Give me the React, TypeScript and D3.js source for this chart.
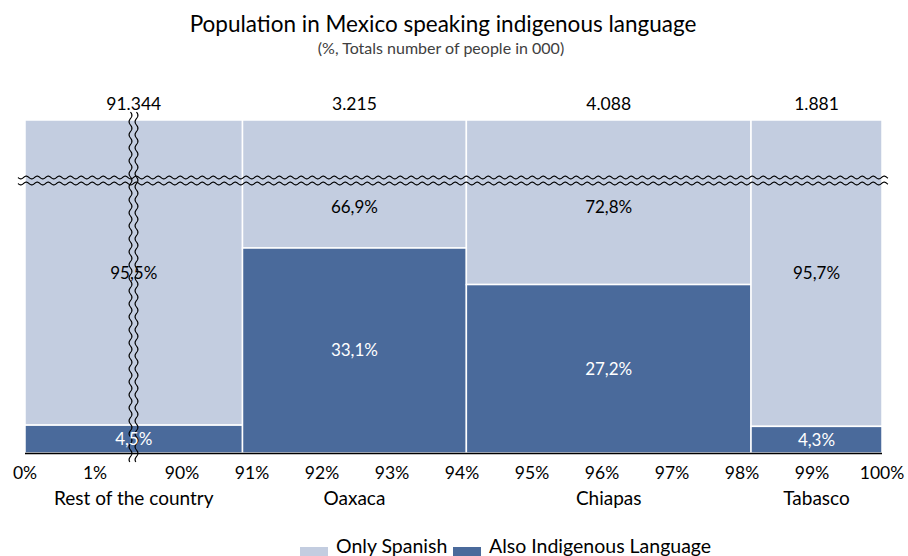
import React from "react";
import * as d3 from "d3";

// ---- data ----
const categories = ["Rest of the country", "Oaxaca", "Chiapas", "Tabasco"];
const totals = [91344, 3215, 4088, 1881]; // people in 000
const alsoIndigenous = [4.5, 33.1, 27.2, 4.3];
const onlySpanish = [95.5, 66.9, 72.8, 95.7];
const tickValues = [0, 1, 90, 91, 92, 93, 94, 95, 96, 97, 98, 99, 100];
const seriesNames = ["Only Spanish", "Also Indigenous Language"];
const seriesColors = ["#C3CDE0", "#4A6A9B"];

const W = 908;
const H = 556;
const FONT = "Lato, 'Open Sans', sans-serif";

// broken scales
const x = d3.scaleLinear().domain([0, 1, 90, 100]).range([25, 95, 182, 882]);
const y = d3.scaleLinear().domain([0, 44, 100]).range([453, 180.5, 120]);

const loc = d3.formatLocale({ decimal: ",", thousands: ".", grouping: [3], currency: ["", ""] });
const fmtPct = (v: number) => loc.format(".1f")(v) + "%";
const fmtTot = loc.format(",d");

const grand = d3.sum(totals);
const cum = Array.from(d3.cumsum(totals));
const cols = categories.map((c, i) => {
  const s0 = ((cum[i] - totals[i]) / grand) * 100;
  const s1 = (cum[i] / grand) * 100;
  return { name: c, x0: x(s0), x1: x(s1), total: totals[i], ind: alsoIndigenous[i], sp: onlySpanish[i] };
});

function wave(a0: number, a1: number, c: number, period: number, amp: number, horizontal: boolean) {
  const pts: [number, number][] = [];
  for (let t = a0; t <= a1; t += 0.5) {
    const o = c + amp * Math.sin(((t - a0) / period) * 2 * Math.PI);
    pts.push(horizontal ? [t, o] : [o, t]);
  }
  return d3.line()(pts) || "";
}

export default function App() {
  const breakY = y(44);
  const breakX = (x(1) + x(90)) / 2 - 5;
  return (
    <svg width={W} height={H} style={{ position: "absolute", left: 0, top: 0, display: "block", background: "#fff" }} fontFamily={FONT}>
      {/* title */}
      <text x={443} y={32} textAnchor="middle" fontSize={22.5} fill="#000">
        Population in Mexico speaking indigenous language
      </text>
      <text x={441} y={54} textAnchor="middle" fontSize={16} fill="#404040">
        (%, Totals number of people in 000)
      </text>

      {/* bars */}
      {cols.map((c) => (
        <g key={c.name}>
          <rect x={c.x0} y={y(100)} width={c.x1 - c.x0} height={y(c.ind) - y(100)} fill={seriesColors[0]} stroke="#fff" strokeWidth={1.5} />
          <rect x={c.x0} y={y(c.ind)} width={c.x1 - c.x0} height={y(0) - y(c.ind)} fill={seriesColors[1]} stroke="#fff" strokeWidth={1.5} />
        </g>
      ))}

      {/* axis line */}
      <line x1={x(0)} x2={x(100)} y1={y(0) + 0.5} y2={y(0) + 0.5} stroke="#000" strokeWidth={1.3} />

      {/* break markers */}
      <g fill="none" stroke="#000" strokeWidth={1.2}>
        <path d={wave(18, 888, breakY - 3, 11, 1.4, true)} />
        <path d={wave(18, 888, breakY + 3, 11, 1.4, true)} />
        <path d={wave(112, 462, breakX - 3, 13, 1.4, false)} />
        <path d={wave(112, 462, breakX + 3, 13, 1.4, false)} />
      </g>

      {/* value labels */}
      {cols.map((c) => {
        const cx = (c.x0 + c.x1) / 2;
        const yLight = Math.max((y(100) + y(c.ind)) / 2, 207);
        const yDark = (y(c.ind) + y(0)) / 2;
        return (
          <g key={"l" + c.name} textAnchor="middle">
            <text x={cx} y={yLight} dy="0.35em" fontSize={17} fill="#000">{fmtPct(c.sp)}</text>
            <text x={cx} y={yDark} dy="0.35em" fontSize={17} fill="#fff">{fmtPct(c.ind)}</text>
            <text x={cx} y={110} fontSize={17.5} fill="#000">{fmtTot(c.total)}</text>
            <text x={cx} y={505} fontSize={19} fill="#000">{c.name}</text>
          </g>
        );
      })}

      {/* tick labels */}
      {tickValues.map((t) => (
        <text key={t} x={x(t)} y={479} textAnchor="middle" fontSize={17.5} fill="#000">
          {t + "%"}
        </text>
      ))}

      {/* legend */}
      {seriesNames.map((s, i) => {
        const lx = [300, 453][i];
        return (
          <g key={s}>
            <rect x={lx} y={547} width={28} height={14} fill={seriesColors[i]} />
            <text x={lx + 36} y={553} fontSize={19.5} fill="#000">{s}</text>
          </g>
        );
      })}
    </svg>
  );
}
